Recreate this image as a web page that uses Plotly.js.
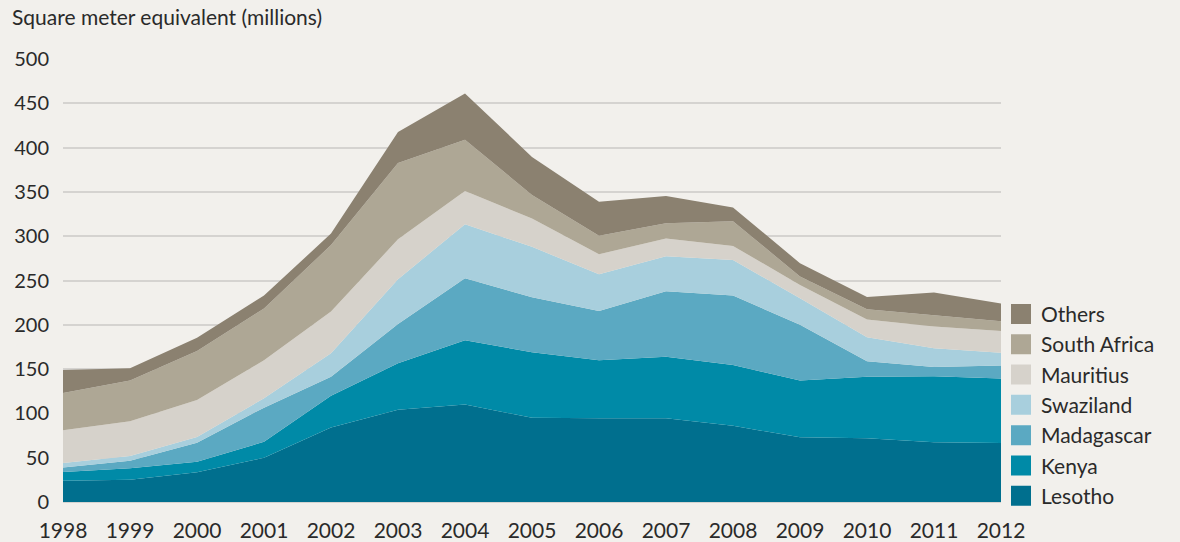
<!DOCTYPE html>
<html>
<head>
<meta charset="utf-8">
<script src="https://cdn.plot.ly/plotly-3.0.1.min.js"></script>
<style>
  html, body { margin: 0; padding: 0; background: #f2f0ec; }
  #chart { width: 1180px; height: 542px; }
</style>
</head>
<body>
<div id="chart"></div>
<script>
const years = [1998, 1999, 2000, 2001, 2002, 2003, 2004, 2005, 2006, 2007, 2008, 2009, 2010, 2011, 2012];

const lesotho    = [24, 25, 33.5, 50, 84, 104, 110, 95, 94.5, 94.5, 86, 73, 72, 67.5, 66.5];
const kenya      = [10, 13, 12, 18, 36, 52.5, 72.5, 74, 65.5, 69.5, 68.5, 64, 69.5, 74.5, 73];
const madagascar = [5, 8.5, 21.5, 38.5, 21.5, 44.5, 70, 62, 55.5, 74, 78.5, 63, 17.5, 10.5, 14.5];
const swaziland  = [5, 5.5, 6.5, 10.5, 26.5, 50.5, 61, 57, 41.5, 39.5, 40, 30, 27, 21, 14.5];
const mauritius  = [37, 39, 41.5, 43, 47, 45, 37.5, 32, 22.5, 20, 16, 15, 20, 24.5, 24.5];
const southAfrica= [42, 46, 55.5, 58.5, 75, 86, 58, 26.5, 21, 17, 28, 9.5, 11.5, 13, 11];
const others     = [26, 14, 15, 14.5, 13, 35, 52, 43, 38.5, 31, 15.5, 15, 14, 25.5, 20];

const seriesNames  = ["Lesotho", "Kenya", "Madagascar", "Swaziland", "Mauritius", "South Africa", "Others"];
const seriesValues = [lesotho, kenya, madagascar, swaziland, mauritius, southAfrica, others];
const seriesColors = ["#006f8e", "#008aa7", "#5ba9c2", "#a8cfdd", "#d6d2cb", "#aea795", "#8b8170"];

const yTicks = [0, 50, 100, 150, 200, 250, 300, 350, 400, 450, 500];
const titleText = "Square meter equivalent (millions)";

const traces = [];
seriesNames.forEach((name, i) => {
  traces.push({
    x: years, y: seriesValues[i], name: name,
    type: "scatter", mode: "lines", stackgroup: "one",
    line: { width: 0, color: seriesColors[i] },
    fillcolor: seriesColors[i],
    showlegend: false, hoverinfo: "skip"
  });
});
// legend entries (square swatches), top to bottom: Others ... Lesotho
for (let i = seriesNames.length - 1; i >= 0; i--) {
  traces.push({
    x: [null], y: [null], name: seriesNames[i], legendgroup: "g" + i,
    type: "scatter", mode: "markers",
    marker: { symbol: "square", size: 16, color: seriesColors[i], line: { width: 4, color: seriesColors[i] } },
    showlegend: true, hoverinfo: "skip"
  });
}

const font = "Lato, 'Open Sans', sans-serif";
const layout = {
  width: 1180, height: 542,
  paper_bgcolor: "#f2f0ec", plot_bgcolor: "#f2f0ec",
  margin: { l: 63, r: 179, t: 59, b: 40 },
  font: { family: font, color: "#2a2a2a", size: 20 },
  title: { text: titleText, x: 12 / 1180, xref: "container", xanchor: "left",
           y: 1 - 18 / 542, yref: "container", yanchor: "middle",
           font: { family: font, size: 21, color: "#2a2a2a" } },
  xaxis: {
    range: [1998, 2012], tickvals: years, ticktext: years.map(String),
    showgrid: false, zeroline: false, showline: false,
    ticks: "outside", ticklen: 10, tickcolor: "rgba(0,0,0,0)",
    tickfont: { family: font, size: 21, color: "#2a2a2a" }
  },
  yaxis: {
    range: [0, 500], tickvals: yTicks, ticktext: yTicks.map(String),
    showgrid: true, gridcolor: "#d5d3d0", gridwidth: 2,
    zeroline: true, zerolinecolor: "#d5d3d0", zerolinewidth: 2,
    showline: false,
    ticks: "outside", ticklen: 9, tickcolor: "rgba(0,0,0,0)",
    tickfont: { family: font, size: 20, color: "#2a2a2a" }
  },
  legend: {
    x: 1.0, xanchor: "left", y: 0.47, yanchor: "top",
    bgcolor: "rgba(0,0,0,0)", traceorder: "grouped",
    font: { family: font, size: 21, color: "#2a2a2a" },
    itemsizing: "trace", tracegroupgap: 0
  },
  hovermode: false
};

Plotly.newPlot("chart", traces, layout, { displayModeBar: false, staticPlot: true });
</script>
</body>
</html>
